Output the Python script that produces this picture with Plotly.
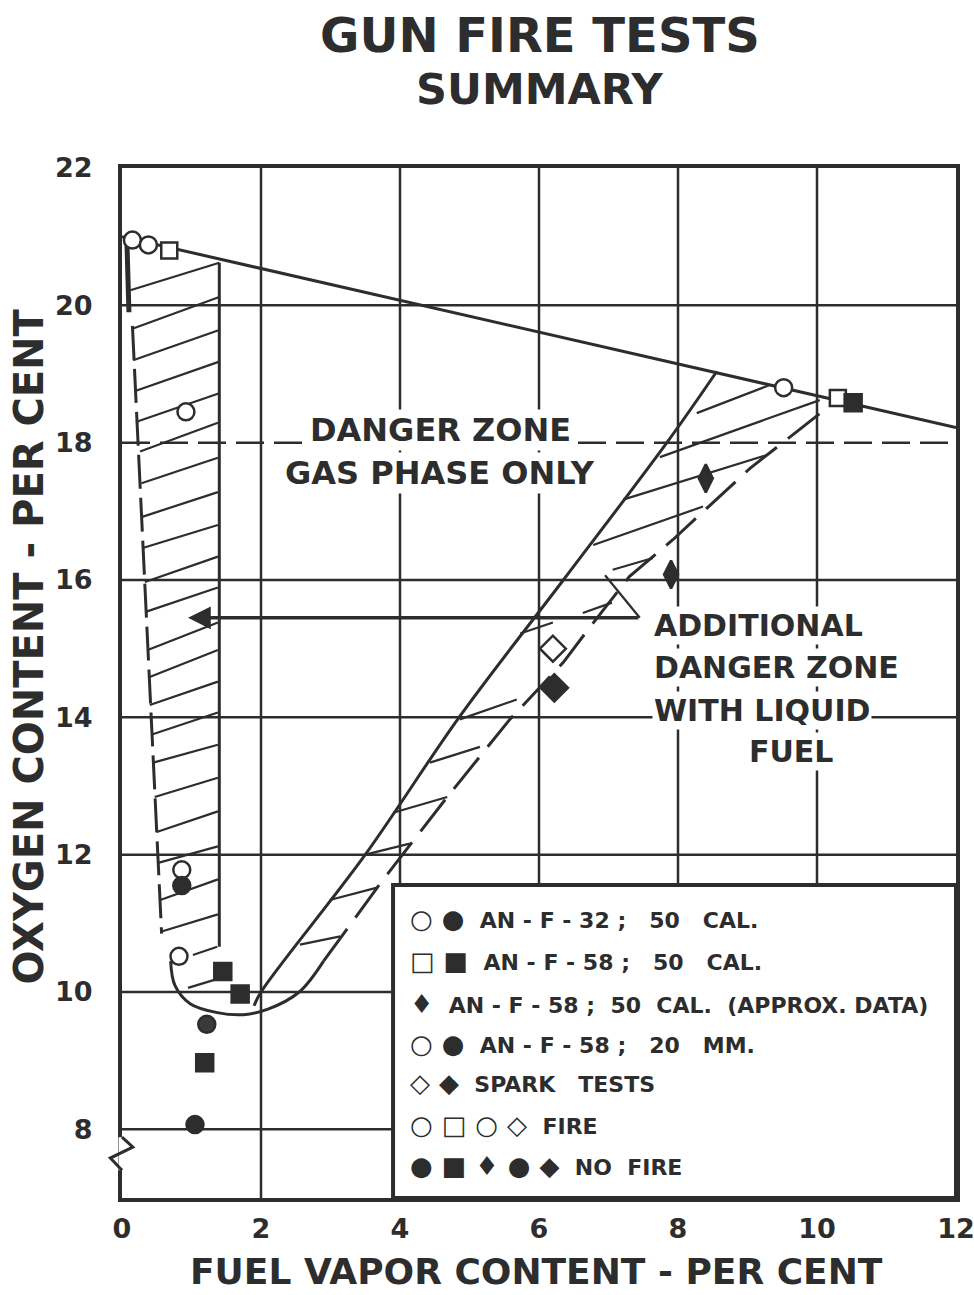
import plotly.graph_objects as go

INK = "#2d2d2d"
FONT = "DejaVu Sans"

# ---------------- data ----------------
x_ticks = [0, 2, 4, 6, 8, 10, 12]
y_ticks = [8, 10, 12, 14, 16, 18, 20, 22]
x_grid = [2, 4, 6, 8, 10]
y_grid = [8, 10, 12, 14, 16, 18, 20]

# test points
fire_circle_x = [0.15, 0.38, 0.92, 9.52, 0.86, 0.82]
fire_circle_y = [20.95, 20.88, 18.45, 18.80, 11.78, 10.52]
nofire_circle_x = [0.86, 1.05]
nofire_circle_y = [11.55, 8.07]
nofire_20mm_x = [1.22]
nofire_20mm_y = [9.53]
fire_square_x = [0.68, 10.30]
fire_square_y = [20.80, 18.65]
nofire_square_x = [10.52, 1.45, 1.70, 1.19]
nofire_square_y = [18.58, 10.30, 9.97, 8.97]
approx_x = [8.40, 7.90]
approx_y = [17.48, 16.08]
spark_fire_x = [6.20]
spark_fire_y = [15.00]
spark_nofire_x = [6.22]
spark_nofire_y = [14.43]

# boundary lines
top_line_x = [0, 12]
top_line_y = [21.0, 18.22]
left_band_right_x = [1.40, 1.40]
left_band_right_y = [20.62, 10.66]
left_band_left_x = [0.15, 0.57]
left_band_left_y = [19.70, 10.85]
left_edge_x = [0.07, 0.10]
left_edge_y = [20.95, 19.90]
u_curve_x = [0.70, 0.76, 0.98, 1.37, 1.75, 2.10, 2.55, 2.90]
u_curve_y = [10.45, 10.10, 9.83, 9.70, 9.67, 9.75, 10.00, 10.45]
band_upper_x = [1.90, 2.00, 3.50, 4.85, 6.35, 7.84, 8.56]
band_upper_y = [9.80, 10.00, 12.00, 14.00, 16.00, 18.00, 19.04]
band_lower_x = [2.90, 3.76, 4.68, 5.58, 6.35, 6.70, 7.30, 7.93, 9.04, 9.28, 10.20]
band_lower_y = [10.45, 11.64, 12.84, 13.97, 14.80, 15.27, 16.05, 16.59, 17.63, 17.82, 18.55]

# hatch segments: x0, y0, x1, y1
left_hatch = [
    (0.12, 20.22, 1.40, 20.62), (0.15, 19.66, 1.40, 20.12), (0.16, 19.20, 1.40, 19.64),
    (0.18, 18.75, 1.40, 19.18), (0.20, 18.30, 1.40, 18.72), (0.26, 17.87, 1.38, 18.29),
    (0.28, 17.41, 1.38, 17.78), (0.29, 16.92, 1.38, 17.28), (0.31, 16.47, 1.38, 16.80),
    (0.33, 15.97, 1.38, 16.34), (0.35, 15.54, 1.38, 15.89), (0.37, 14.98, 1.38, 15.38),
    (0.38, 14.58, 1.38, 14.98), (0.40, 14.18, 1.38, 14.52), (0.43, 13.75, 1.38, 14.07),
    (0.45, 13.34, 1.38, 13.60), (0.47, 12.84, 1.38, 13.12), (0.50, 12.33, 1.38, 12.63),
    (0.52, 11.88, 1.38, 12.12), (0.55, 11.34, 1.38, 11.64), (0.57, 10.88, 1.38, 11.13),
    (1.02, 10.54, 1.37, 10.66), (0.95, 10.06, 1.34, 10.18),
]
right_hatch = [
    (2.56, 10.69, 3.14, 10.81), (2.99, 11.34, 3.67, 11.52), (3.50, 12.00, 4.14, 12.16),
    (3.90, 12.61, 4.68, 12.84), (4.43, 13.34, 5.15, 13.57), (4.86, 13.97, 5.68, 14.26),
    (5.73, 15.22, 6.20, 15.38), (6.63, 15.52, 7.05, 15.67), (6.78, 16.51, 8.36, 17.07),
    (7.06, 16.15, 7.64, 16.32), (7.21, 17.17, 9.28, 17.82), (7.74, 17.79, 10.04, 18.62),
    (8.27, 18.43, 9.32, 18.84), (7.45, 15.45, 6.95, 16.07),
]

arrow_tail = (7.45, 15.45)
arrow_tip = (0.95, 15.45)

legend_box = (3.90, 12.0, 7.0, 11.56)
legend_symbols = ["○ ●", "□ ■", "♦", "○ ●", "◇ ◆", "○ □ ○ ◇", "● ■ ♦ ● ◆"]
legend_labels = [
    "AN - F - 32 ;   50   CAL.",
    "AN - F - 58 ;   50   CAL.",
    "AN - F - 58 ;  50  CAL.  (APPROX. DATA)",
    "AN - F - 58 ;   20   MM.",
    "SPARK   TESTS",
    "FIRE",
    "NO  FIRE",
]
legend_row_y = [11.07, 10.45, 9.82, 9.24, 8.67, 8.07, 7.46]
legend_x = 4.12


def segs(seg_list):
    xs, ys = [], []
    for x0, y0, x1, y1 in seg_list:
        xs += [x0, x1, None]
        ys += [y0, y1, None]
    return xs, ys


fig = go.Figure()

# gridlines
for gx in x_grid:
    fig.add_shape(type="line", xref="x", yref="y", x0=gx, x1=gx, y0=7, y1=22,
                  line=dict(color=INK, width=2.5), layer="below")
for gy in y_grid:
    fig.add_shape(type="line", xref="x", yref="y", x0=0, x1=12, y0=gy, y1=gy,
                  line=dict(color=INK, width=2.5, dash="28px,10px" if gy == 18 else "solid"),
                  layer="below")

# legend box
bx0, bx1, by0, by1 = legend_box
fig.add_shape(type="rect", xref="x", yref="y", x0=bx0, x1=bx1, y0=by0, y1=by1,
              line=dict(color=INK, width=4), fillcolor="white", layer="below")


def line_trace(x, y, width=3, dash="solid", shape="linear"):
    fig.add_trace(go.Scatter(x=x, y=y, mode="lines", hoverinfo="skip", showlegend=False,
                             line=dict(color=INK, width=width, dash=dash, shape=shape)))


line_trace(top_line_x, top_line_y, 3)
line_trace(left_band_right_x, left_band_right_y, 3)
line_trace(left_band_left_x, left_band_left_y, 3, dash="34px,9px")
line_trace(left_edge_x, left_edge_y, 5)
line_trace(u_curve_x, u_curve_y, 3, shape="spline")
line_trace(band_upper_x, band_upper_y, 3, shape="spline")
line_trace(band_lower_x, band_lower_y, 3, dash="40px,14px")
hx, hy = segs(left_hatch)
line_trace(hx, hy, 2.2)
hx, hy = segs(right_hatch)
line_trace(hx, hy, 2.2)


# markers
def marker_trace(x, y, symbol, size, filled, fill=INK):
    fig.add_trace(go.Scatter(
        x=x, y=y, mode="markers", showlegend=False, hoverinfo="skip",
        marker=dict(symbol=symbol, size=size,
                    color=fill if filled else "white",
                    line=dict(color=INK, width=2.5))))


marker_trace(fire_circle_x, fire_circle_y, "circle", 17, False)
marker_trace(fire_square_x, fire_square_y, "square", 16, False)
marker_trace(spark_fire_x, spark_fire_y, "diamond", 20, False)
marker_trace(nofire_circle_x, nofire_circle_y, "circle", 17, True)
marker_trace(nofire_20mm_x, nofire_20mm_y, "circle", 17, True, fill="#3a3a3a")
marker_trace(nofire_square_x, nofire_square_y, "square", 17, True)
marker_trace(approx_x, approx_y, "diamond-tall", 20, True)
marker_trace(spark_nofire_x, spark_nofire_y, "diamond", 21, True)

annotations = []


def txt(text, x, y, size, xanchor="center", xref="x", yref="y", bg="white", angle=0):
    annotations.append(dict(text=text, x=x, y=y, xref=xref, yref=yref, showarrow=False,
                            xanchor=xanchor, yanchor="middle", textangle=angle,
                            bgcolor=bg, borderpad=1,
                            font=dict(family=FONT, size=size, color=INK, weight="bold")))


# arrow
annotations.append(dict(x=arrow_tip[0], y=arrow_tip[1], ax=arrow_tail[0], ay=arrow_tail[1],
                        xref="x", yref="y", axref="x", ayref="y", text="", showarrow=True,
                        arrowhead=2, arrowsize=1.3, arrowwidth=3.5, arrowcolor=INK, standoff=0))

txt("DANGER ZONE", 4.58, 18.19, 32)
txt("GAS PHASE ONLY", 4.58, 17.56, 32)
txt("ADDITIONAL", 7.62, 15.34, 30, xanchor="left")
txt("DANGER ZONE", 7.62, 14.72, 30, xanchor="left")
txt("WITH LIQUID", 7.62, 14.10, 30, xanchor="left")
txt("FUEL", 9.62, 13.50, 30)

for sym, lab, ry in zip(legend_symbols, legend_labels, legend_row_y):
    row = '<span style="font-size:26px">' + sym + '</span>  ' + lab
    txt(row, legend_x, ry, 22, xanchor="left", bg="rgba(0,0,0,0)")

# titles
txt("GUN FIRE TESTS", 0.5012, 1.129, 48, xref="paper", yref="paper", bg="rgba(0,0,0,0)")
txt("SUMMARY", 0.5012, 1.077, 43, xref="paper", yref="paper", bg="rgba(0,0,0,0)")
txt("OXYGEN CONTENT - PER CENT", -0.112, 0.535, 40, xref="paper", yref="paper",
    bg="rgba(0,0,0,0)", angle=-90)
txt("FUEL VAPOR CONTENT - PER CENT", 0.4976, -0.0715, 36, xref="paper", yref="paper",
    bg="rgba(0,0,0,0)")

fig.update_layout(annotations=annotations)

# axis break zigzag
fig.add_shape(type="line", xref="paper", yref="paper", x0=0, x1=0, y0=0.027, y1=0.059,
              line=dict(color="white", width=7), layer="above")
fig.add_shape(type="path", xref="paper", yref="paper",
              path="M 0,0.059 L 0.013,0.0495 L -0.014,0.0388 L 0,0.027",
              line=dict(color=INK, width=3), layer="above")

fig.update_xaxes(range=[0, 12], tickvals=x_ticks, ticktext=[str(v) for v in x_ticks],
                 showgrid=False, zeroline=False, showline=True, mirror=True,
                 linecolor=INK, linewidth=4, ticks="", ticklabelstandoff=4,
                 automargin=False, ticklabeloverflow="allow",
                 tickfont=dict(family=FONT, size=27, color=INK, weight="bold"))
fig.update_yaxes(range=[7, 22], tickvals=y_ticks, ticktext=[str(v) for v in y_ticks],
                 showgrid=False, zeroline=False, showline=True, mirror=True,
                 linecolor=INK, linewidth=4, ticks="", ticklabelstandoff=20,
                 automargin=False, ticklabeloverflow="allow",
                 tickfont=dict(family=FONT, size=27, color=INK, weight="bold"))

fig.update_layout(width=974, height=1295, margin=dict(l=122, r=18, t=168, b=97),
                  paper_bgcolor="white", plot_bgcolor="white", showlegend=False)

fig.write_html("out.html", config={"displayModeBar": False},
               post_script="document.body.style.margin='0';document.body.style.overflow='hidden';")
